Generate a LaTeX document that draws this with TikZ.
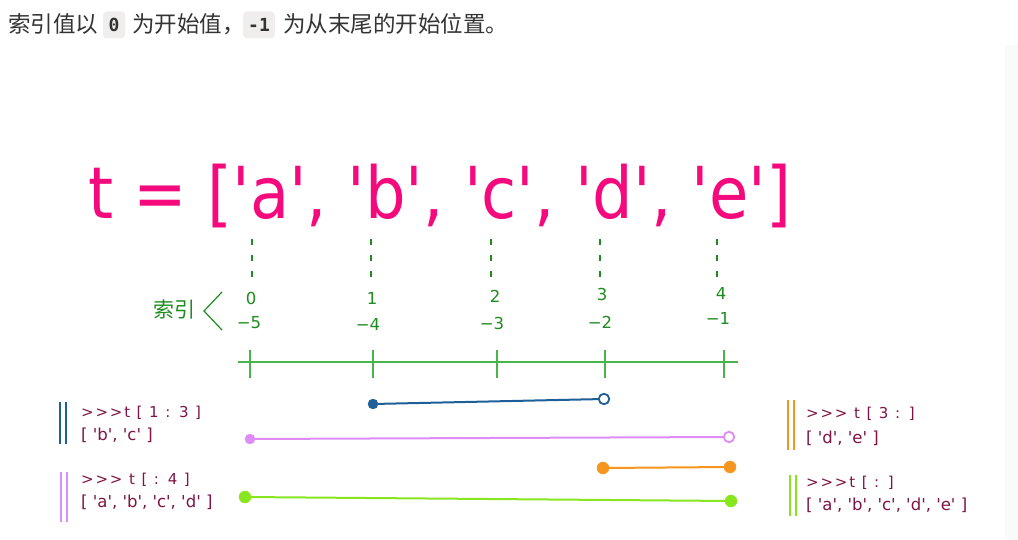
\documentclass[tikz,border=0pt]{standalone}
\usepackage{fontspec}
\setmainfont{Liberation Sans}
\newfontfamily\cjk{Noto Sans CJK SC}
\newfontfamily\monob{DejaVu Sans Mono}
\newfontfamily\titlef{DejaVu Sans}
\newfontfamily\numf{DejaVu Sans}
\newfontfamily\codef{DejaVu Sans}
\newfontfamily\promptf[LetterSpace=12]{DejaVu Sans}
\definecolor{pinkt}{HTML}{F50A7D}
\definecolor{gtext}{HTML}{1E8C1E}
\definecolor{gline}{HTML}{47B547}
\definecolor{maroon}{HTML}{7E1446}
\definecolor{sblue}{HTML}{1F5F99}
\definecolor{sviol}{HTML}{DD8CFA}
\definecolor{sorange}{HTML}{F7961E}
\definecolor{sgreen}{HTML}{88E61E}
\definecolor{topgray}{HTML}{333333}
\definecolor{codebg}{HTML}{EFEEEC}
\tikzset{
  topcn/.style={inner sep=0pt, anchor=base west, text=topgray, font=\cjk\fontsize{22.5}{22.5}\selectfont},
  codebox/.style={fill=codebg, rounded corners=4pt, minimum height=27pt, minimum width=22pt, inner xsep=5pt, text=topgray, font=\monob\bfseries\fontsize{18}{18}\selectfont},
  idx/.style={text=gtext, inner sep=0pt, font=\numf\fontsize{16.5}{16.5}\selectfont},
  vdash/.style={gtext, line width=1.8pt, dash pattern=on 6pt off 10pt},
  fdot/.style={circle, fill=#1, draw=#1, inner sep=0pt, minimum size=9pt},
  odot/.style={circle, fill=white, draw=#1, line width=1.8pt, inner sep=0pt, minimum size=10.5pt},
  sline/.style={#1, line width=2pt},
  bar/.style={#1, line width=2.4pt},
  prompt/.style={anchor=base west, inner sep=0pt, text=maroon, font=\promptf\fontsize{15}{15}\selectfont},
  lst/.style={anchor=base west, inner sep=0pt, text=maroon, font=\codef\fontsize{16.5}{16.5}\selectfont},
}
\begin{document}
\begin{tikzpicture}[x=1pt,y=-1pt]
\useasboundingbox (0,0) rectangle (1018,540);
\fill[white] (0,0) rectangle (1018,540);
\fill[black!2] (1005,45) rectangle (1018,540);

% top sentence
\node[topcn] (s1) at (8,33) {索引值以};
\node[codebox] (c0) at (114,25) {0};
\node[topcn] (s2) at (132,33) {为开始值，};
\node[codebox] (c1) at (259,25) {-1};
\node[topcn] (s3) at (283,33) {为从末尾的开始位置。};

% title
\node[anchor=base west, inner sep=0pt, text=pinkt] (title) at (88,219)
  {\scalebox{1}[1.12]{\titlef\fontsize{64}{64}\selectfont t = ['a', 'b', 'c', 'd', 'e']}};

% dashed guides
\foreach \x/\n in {252/0,371/1,491/2,600/3,717/4}{
  \coordinate (d\n t) at (\x,239);
  \coordinate (d\n b) at (\x,278);
  \draw[vdash] (d\n t) -- (d\n b);
}

% index labels
\node[text=gtext, inner sep=0pt, font=\cjk\fontsize{21}{21}\selectfont] (suoyin) at (174,310) {索引};
\coordinate (brA) at (222,292);
\coordinate (brB) at (204,311);
\coordinate (brC) at (222,330);
\draw[gtext, line width=1.2pt] (brA) -- (brB) -- (brC);

\node[idx] (p0) at (251,298) {0};
\node[idx] (p1) at (372,298) {1};
\node[idx] (p2) at (495,296) {2};
\node[idx] (p3) at (602,294) {3};
\node[idx] (p4) at (721,293) {4};
\node[idx] (n0) at (249,323) {−5};
\node[idx] (n1) at (368,324) {−4};
\node[idx] (n2) at (492,323) {−3};
\node[idx] (n3) at (600,322) {−2};
\node[idx] (n4) at (718,318) {−1};

% axis
\coordinate (axL) at (238,362);
\coordinate (axR) at (738,362);
\draw[gline, line width=1.8pt] (axL) -- (axR);
\foreach \x/\n in {250/0,373/1,497/2,605/3,724/4}{
  \coordinate (t\n a) at (\x,350);
  \coordinate (t\n b) at (\x,378);
  \draw[gline, line width=1.6pt] (t\n a) -- (t\n b);
}

% slices
\node[fdot=sblue, minimum size=10pt] (b1) at (373,404) {};
\node[odot=sblue] (b2) at (604,399) {};
\draw[sline=sblue] (b1) -- (b2);

\node[fdot=sviol, minimum size=10pt] (v1) at (250,439) {};
\node[odot=sviol] (v2) at (729,437) {};
\draw[sline=sviol] (v1) -- (v2);

\node[fdot=sorange, minimum size=12pt] (o1) at (603,468) {};
\node[fdot=sorange, minimum size=12pt] (o2) at (730,467) {};
\draw[sline=sorange] (o1) -- (o2);

\node[fdot=sgreen, minimum size=12pt] (g1) at (245,497) {};
\node[fdot=sgreen, minimum size=12pt] (g2) at (731,501) {};
\draw[sline=sgreen] (g1) -- (g2);

% left blocks
\coordinate (lb1a) at (60,402); \coordinate (lb1b) at (60,444);
\coordinate (lb1c) at (66,402); \coordinate (lb1d) at (66,444);
\draw[bar=sblue] (lb1a) -- (lb1b);
\draw[bar=sblue] (lb1c) -- (lb1d);
\node[prompt] (lp1) at (81,417) {>>>t [ 1 : 3 ]};
\node[lst] (ll1) at (81,440) {[ 'b', 'c' ]};

\coordinate (lb2a) at (61,472); \coordinate (lb2b) at (61,522);
\coordinate (lb2c) at (67,472); \coordinate (lb2d) at (67,522);
\draw[bar=sviol] (lb2a) -- (lb2b);
\draw[bar=sviol] (lb2c) -- (lb2d);
\node[prompt] (lp2) at (81,484) {>>> t [ : 4 ]};
\node[lst] (ll2) at (81,507) {[ 'a', 'b', 'c', 'd' ]};

% right blocks
\coordinate (rb1a) at (788,400); \coordinate (rb1b) at (788,450);
\coordinate (rb1c) at (794,400); \coordinate (rb1d) at (794,450);
\draw[bar=sorange] (rb1a) -- (rb1b);
\draw[bar=sorange] (rb1c) -- (rb1d);
\node[prompt] (rp1) at (806,418) {>>> t [ 3 : ]};
\node[lst] (rl1) at (806,443) {[ 'd', 'e' ]};

\coordinate (rb2a) at (790,475); \coordinate (rb2b) at (790,516);
\coordinate (rb2c) at (796,475); \coordinate (rb2d) at (796,516);
\draw[bar=sgreen] (rb2a) -- (rb2b);
\draw[bar=sgreen] (rb2c) -- (rb2d);
\node[prompt] (rp2) at (806,487) {>>>t [ : ]};
\node[lst] (rl2) at (806,510) {[ 'a', 'b', 'c', 'd', 'e' ]};
\end{tikzpicture}
\end{document}
